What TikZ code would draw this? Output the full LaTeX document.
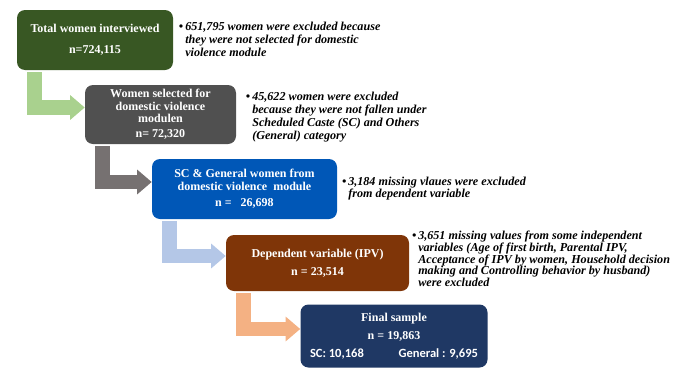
\documentclass[tikz,border=0pt]{standalone}
\usepackage{fontspec}
\setmainfont{Liberation Serif}
\newfontfamily\calibrifont{Carlito}
\usetikzlibrary{arrows.meta,calc}

\definecolor{stagegreen}{HTML}{385723}
\definecolor{stagegray}{HTML}{505050}
\definecolor{stageblue}{HTML}{0057B7}
\definecolor{stagebrown}{HTML}{7F3508}
\definecolor{stagenavy}{HTML}{1F3864}
\definecolor{flowgreen}{HTML}{A9D18E}
\definecolor{flowgray}{HTML}{767171}
\definecolor{flowblue}{HTML}{B4C7E7}
\definecolor{flowpeach}{HTML}{F4B183}

\tikzset{
  stage/.style={rounded corners=6pt, text=white, align=center, inner sep=0pt,
    font=\fontsize{9}{9.4}\selectfont\bfseries},
  note/.style={anchor=north west, inner sep=0pt, align=left,
    font=\fontsize{9.1}{9.75}\selectfont\bfseries\itshape},
  flow/.style={line width=11pt, line join=miter, -{Triangle[width=18pt,length=11pt]}}
}

\begin{document}
\begin{tikzpicture}[x=0.75pt, y=-0.75pt]  % one unit is one pixel of the 675x368 page
    \useasboundingbox (0,0) rectangle (675,368);

    % Draw the stage boxes
    \node[stage, fill=stagegreen, minimum width=117pt, minimum height=45pt] (total) at (95,40)
        {Total women interviewed\\[6pt] n=724,115};
    \node[stage, fill=stagegray, minimum width=113.25pt, minimum height=44.25pt] (selected) at (160.5,114.5)
        {Women selected for\\ domestic violence\\ modulen\\[2pt] n= 72,320};
    \node[stage, fill=stageblue, minimum width=138.75pt, minimum height=45pt] (scgeneral) at (244.5,189)
        {SC \& General women from\\ domestic violence\ \ module\\[3pt] n =\ \ \ 26,698};
    \node[stage, fill=stagebrown, minimum width=137.25pt, minimum height=42pt] (dependent) at (317.5,263)
        {Dependent variable (IPV)\\[4pt] n = 23,514};
    \node[stage, fill=stagenavy, minimum width=140.25pt, minimum height=47.25pt] (final) at (394,336)
        {Final sample\\[4pt] n = 19,863\\[4pt] {\calibrifont\fontsize{9.4}{9.4}\selectfont SC: 10,168\hspace{26pt}General : 9,695}};

    % Draw the exclusion notes
    \node[note] (note1) at (185,21.5) {\llap{\textbullet\,}651,795 women were excluded because\\
        they were not selected for domestic\\ violence module};
    \node[note] (note2) at (252,91.5) {\llap{\textbullet\,}45,622 women were excluded\\
        because they were not fallen under\\ Scheduled Caste (SC) and Others\\ (General) category};
    \node[note, font=\fontsize{9.1}{9}\selectfont\bfseries\itshape] (note3) at (348,176.5)
        {\llap{\textbullet\,}3,184 missing vlaues were excluded\\ from dependent variable};
    \node[note, font=\fontsize{9.1}{8.9}\selectfont\bfseries\itshape] (note4) at (418,230.5)
        {\llap{\textbullet\,}3,651 missing values from some independent\\
        variables (Age of first birth, Parental IPV,\\ Acceptance of IPV by women, Household decision\\
        making and Controlling behavior by husband)\\ were excluded};

    % Draw the bent arrows between the stages
    \foreach \from/\to/\col in {total/selected/flowgreen, selected/scgeneral/flowgray,
        scgeneral/dependent/flowblue, dependent/final/flowpeach} {
        \draw[flow, draw=\col] ($(\from.south west)+(18,2)$) |- ($(\to.west)+(0,-7)$);
    }
\end{tikzpicture}
\end{document}
